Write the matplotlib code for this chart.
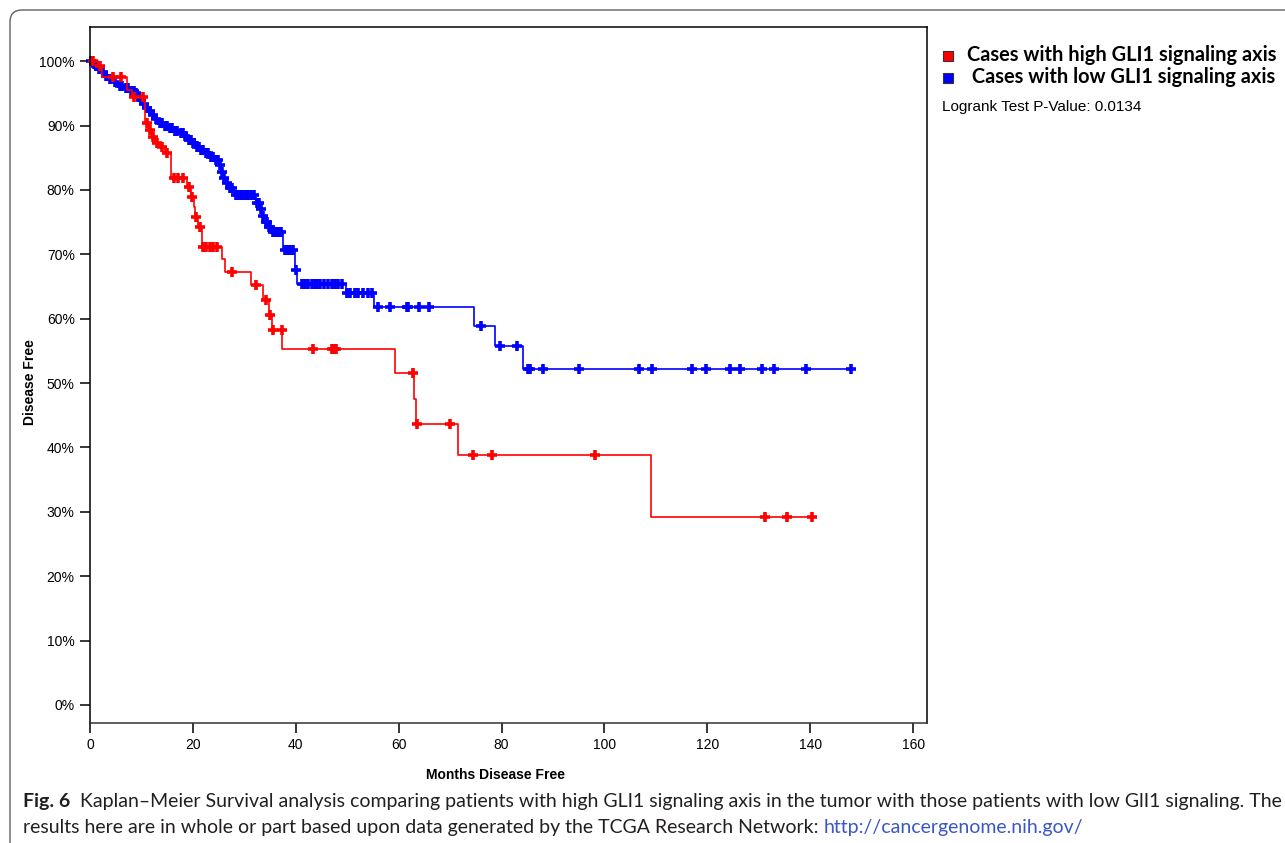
import numpy as np
import matplotlib
matplotlib.use("Agg")
import matplotlib.pyplot as plt
from matplotlib.patches import FancyBboxPatch, Rectangle

plt.rcParams['font.family'] = ['Liberation Sans', 'DejaVu Sans']

# --- data (months, % disease free) ---
# high GLI1 group: step times and survival after each step
red_t = [0, 1.5, 2.4, 7.2, 8.2, 10.6, 11.4, 12.0, 12.6, 13.6, 14.6, 15.8, 18.9, 19.6,
         20.2, 20.4, 21.0, 21.8, 25.7, 26.3, 31.3, 33.6, 34.8, 35.3, 37.4, 59.3, 63.0,
         63.3, 71.5, 109.1]
red_s = [100, 99.2, 97.5, 95.5, 94.4, 90.4, 89.3, 88.2, 87.3, 86.6, 85.7, 81.8, 80.4, 78.9,
         77.3, 75.8, 74.2, 71.1, 69.2, 67.2, 65.2, 62.9, 60.6, 58.2, 55.3, 51.6, 47.6,
         43.6, 38.8, 29.2]
red_cens = [0.6, 1.9, 4.5, 6.0, 8.6, 10.3, 11.1, 11.7, 12.2, 13.0, 14.0, 15.0, 16.3, 17.2,
            18.1, 19.3, 19.9, 20.6, 21.4, 22.0, 22.6, 23.3, 24.0, 24.7, 27.6, 32.3, 34.2,
            35.0, 35.5, 37.3, 43.4, 47.0, 47.4, 47.8, 62.8, 63.6, 70.0, 74.5, 78.1, 98.2,
            131.2, 135.5, 140.4]

# low GLI1 group
blue_t = [0, 0.5, 1.0, 1.6, 2.3, 3.0, 3.7, 4.5, 5.5, 6.6, 7.8, 8.8, 9.3, 9.8, 10.3, 10.8,
          11.4, 12.0, 12.7, 13.5, 14.3, 15.3, 16.3, 17.3, 18.2, 19.0, 19.8, 20.6, 21.4,
          22.3, 23.3, 24.3, 25.0, 25.4, 25.8, 26.3, 27.0, 28.0, 32.3, 33.0, 33.5, 34.0,
          34.6, 35.3, 37.6, 39.8, 40.2, 49.7, 55.2, 74.6, 78.7, 84.2]
blue_s = [100, 99.6, 99.2, 98.8, 98.3, 97.7, 97.2, 96.7, 96.2, 95.8, 95.4, 95.0, 94.5, 93.9,
          93.3, 92.7, 92.2, 91.6, 91.0, 90.4, 90.0, 89.6, 89.2, 88.8, 88.3, 87.8, 87.3,
          86.7, 86.2, 85.7, 85.1, 84.6, 83.8, 82.8, 81.8, 81.0, 80.3, 79.2, 78.0, 77.0,
          76.0, 75.0, 74.2, 73.5, 70.7, 67.5, 65.4, 64.0, 61.8, 58.8, 55.7, 52.2]
blue_cens = [0.2, 0.7, 1.2, 1.8, 2.5, 3.2, 3.9, 4.8, 5.8, 6.2, 7.0, 7.4, 8.0, 8.5, 9.0, 9.5,
             10.0, 10.5, 11.0, 11.6, 12.2, 12.9, 13.7, 14.0, 14.6, 15.0, 15.6, 16.0, 16.6,
             17.0, 17.6, 18.0, 18.5, 19.2, 19.6, 20.0, 20.3, 20.8, 21.1, 21.6, 22.0, 22.5,
             22.9, 23.5, 23.9, 24.5, 24.8, 25.2, 25.6, 26.0, 26.6, 27.2, 27.6, 28.3, 28.8,
             29.3, 29.8, 30.3, 30.8, 31.3, 31.8, 32.5, 32.8, 33.2, 33.7, 34.2, 34.4, 34.8,
             35.0, 35.5, 35.9, 36.3, 36.8, 37.2, 37.9, 38.4, 38.9, 39.4, 40.0, 41.2, 41.8,
             42.4, 43.2, 43.7, 44.2, 44.7, 45.5, 46.3, 47.0, 47.6, 48.2, 49.0, 50.0, 50.6,
             51.5, 52.1, 53.1, 54.0, 54.8, 56.0, 58.3, 61.6, 61.8, 64.0, 65.9, 76.0, 79.7,
             83.0, 85.1, 85.5, 88.1, 95.1, 106.7, 109.3, 117.0, 119.8, 124.4, 126.4, 130.6,
             133.0, 139.2, 147.9]

labels = ['Cases with high GLI1 signaling axis', ' Cases with low GLI1 signaling axis']
colors = ['#ff0000', '#0000ff']
pvalue_text = 'Logrank Test P-Value: 0.0134'
x_ticks = [0, 20, 40, 60, 80, 100, 120, 140, 160]
y_ticks = [0, 10, 20, 30, 40, 50, 60, 70, 80, 90, 100]


def km_plot(ax, t, s, cens, color):
    t = np.array(t)
    s = np.array(s)
    cens = np.array(cens)
    end = cens.max()
    ax.step(np.append(t, end), np.append(s, s[-1]), where='post', color=color, lw=1.2)
    idx = np.searchsorted(t, cens, side='right') - 1
    ax.plot(cens, s[idx], ls='none', marker='+', ms=7.8, mew=2.6, color=color, clip_on=False)


fig = plt.figure(figsize=(12.85, 8.43), dpi=100)

# background layer in pixel coordinates (rounded frame, legend, caption)
bg = fig.add_axes([0, 0, 1, 1], zorder=0)
bg.set_xlim(0, 1285)
bg.set_ylim(843, 0)
bg.axis('off')
bg.add_patch(FancyBboxPatch((10, 10), 1400, 1000, boxstyle='round,pad=0,rounding_size=12',
                            fc='none', ec='#606060', lw=1.0))

cap_font = ['Lato', 'DejaVu Sans']
cap_size = 14
t1 = bg.text(23, 807, 'Fig. 6', fontsize=cap_size, weight='bold', family=cap_font,
             va='baseline', color='#231f20')
bg.annotate('  Kaplan\u2013Meier Survival analysis comparing patients with high GLI1 signaling axis '
            'in the tumor with those patients with low GlI1 signaling. The',
            xy=(1, 0), xycoords=t1, va='bottom', fontsize=cap_size, family=cap_font,
            color='#231f20')
t3 = bg.text(23, 833, 'results here are in whole or part based upon data generated by the TCGA '
             'Research Network: ', fontsize=cap_size, family=cap_font, va='baseline',
             color='#231f20')
bg.annotate('http://cancergenome.nih.gov/', xy=(1, 0), xycoords=t3, va='bottom',
            fontsize=cap_size, family=cap_font, color='#3a56c8')

# legend: coloured squares and bold labels
leg_font = ['Lato', 'DejaVu Sans']
for i, (lab, c) in enumerate(zip(labels, colors)):
    bg.add_patch(Rectangle((942.5, 51 + 21.5 * i), 10.5, 10, fc=c, ec='#333333', lw=0.8))
    bg.text(967, 61 + 22 * i, lab, fontsize=14.4, weight='bold', family=leg_font,
            va='baseline', color='black')
bg.text(942, 111, pvalue_text, fontsize=11, va='baseline')

# main plot
ax = fig.add_axes([90 / 1285, 1 - 723 / 843, 837 / 1285, 696 / 843], zorder=1)
km_plot(ax, blue_t, blue_s, blue_cens, colors[1])
km_plot(ax, red_t, red_s, red_cens, colors[0])

ax.set_xlim(0, 162.7)
ax.set_ylim(-2.8, 105.3)
ax.set_xticks(x_ticks)
ax.set_yticks(y_ticks)
ax.set_yticklabels([f'{v}%' for v in y_ticks])
ax.tick_params(direction='out', length=7, width=1.1, labelsize=10, pad=4)
for sp in ax.spines.values():
    sp.set_linewidth(1.1)
ax.spines['bottom'].set_color('#333333')

ax.set_xlabel('Months Disease Free', fontsize=10, weight='bold')
ax.xaxis.set_label_coords(0.485, -0.064)
ax.set_ylabel('Disease Free', fontsize=10, weight='bold')
ax.yaxis.set_label_coords(-0.063, 0.49)

fig.savefig('out.png', dpi=100)
